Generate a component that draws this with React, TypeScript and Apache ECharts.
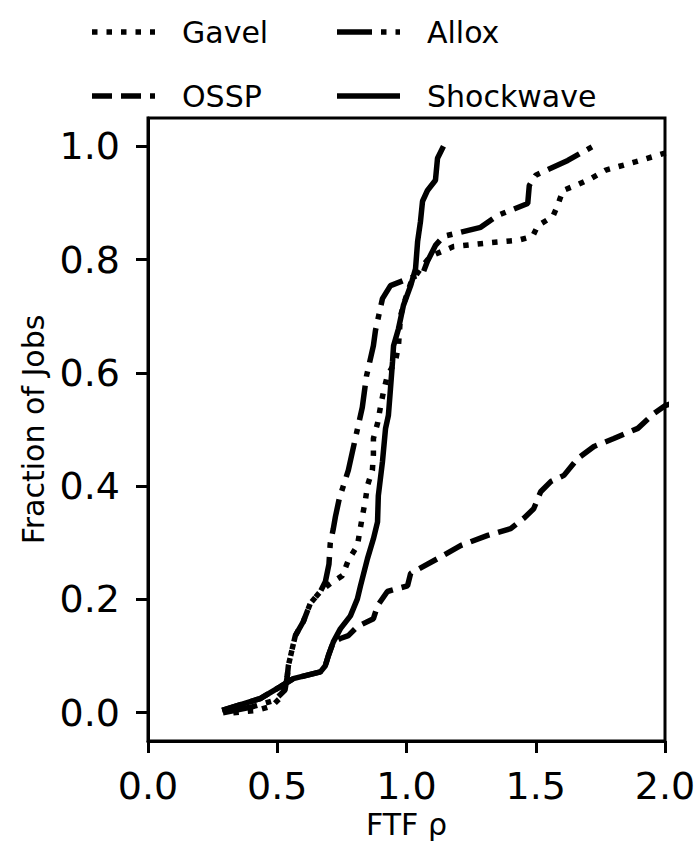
import React, { useEffect, useRef } from "react";
import * as echarts from "echarts";

const seriesNames = ["Gavel", "Allox", "OSSP", "Shockwave"];
const xTicks = [0, 0.5, 1.0, 1.5, 2.0];
const yTicks = [0, 0.2, 0.4, 0.6, 0.8, 1.0];

const gavelData = [
  [0.33, 0.0], [0.42, 0.004], [0.48, 0.012], [0.52, 0.03], [0.539, 0.065], [0.543, 0.083],
  [0.558, 0.113], [0.57, 0.136], [0.601, 0.161], [0.628, 0.193], [0.667, 0.214], [0.705, 0.228],
  [0.752, 0.242], [0.775, 0.269], [0.81, 0.295], [0.829, 0.346], [0.841, 0.375], [0.849, 0.401],
  [0.868, 0.428], [0.872, 0.456], [0.872, 0.484], [0.888, 0.511], [0.899, 0.539], [0.911, 0.567],
  [0.926, 0.595], [0.957, 0.62], [0.969, 0.648], [0.977, 0.701], [0.996, 0.731], [1.016, 0.758],
  [1.054, 0.784], [1.093, 0.806], [1.182, 0.823], [1.306, 0.829], [1.43, 0.834], [1.488, 0.841],
  [1.508, 0.86], [1.566, 0.876], [1.585, 0.896], [1.605, 0.922], [1.655, 0.931], [1.713, 0.943],
  [1.771, 0.958], [1.888, 0.973], [2.0, 0.988], [2.06, 0.995],
];

const alloxData = [
  [0.29, 0.0], [0.4, 0.01], [0.49, 0.022], [0.53, 0.04], [0.539, 0.065], [0.543, 0.083],
  [0.558, 0.113], [0.57, 0.136], [0.601, 0.161], [0.628, 0.193], [0.667, 0.214], [0.686, 0.231],
  [0.7, 0.262], [0.705, 0.299], [0.717, 0.325], [0.725, 0.346], [0.74, 0.378], [0.775, 0.428],
  [0.802, 0.484], [0.829, 0.539], [0.845, 0.594], [0.872, 0.648], [0.88, 0.675], [0.907, 0.731],
  [0.938, 0.754], [0.988, 0.763], [1.043, 0.772], [1.066, 0.779], [1.081, 0.797], [1.112, 0.825],
  [1.143, 0.841], [1.287, 0.857], [1.353, 0.878], [1.469, 0.899], [1.475, 0.931], [1.5, 0.949],
  [1.624, 0.975], [1.721, 1.0],
];

const osspData = [
  [0.287, 0.004], [0.434, 0.025], [0.512, 0.046], [0.562, 0.06], [0.667, 0.072], [0.686, 0.083],
  [0.698, 0.101], [0.717, 0.125], [0.744, 0.131], [0.775, 0.136], [0.81, 0.152], [0.872, 0.166],
  [0.888, 0.189], [0.926, 0.214], [0.965, 0.219], [1.004, 0.224], [1.016, 0.246], [1.12, 0.272],
  [1.209, 0.295], [1.314, 0.313], [1.403, 0.325], [1.453, 0.343], [1.492, 0.36], [1.519, 0.39],
  [1.558, 0.408], [1.609, 0.419], [1.663, 0.449], [1.725, 0.47], [1.802, 0.484], [1.895, 0.502],
  [1.957, 0.528], [2.0, 0.542], [2.05, 0.55],
];

const shockwaveData = [
  [0.287, 0.004], [0.434, 0.025], [0.512, 0.046], [0.562, 0.06], [0.667, 0.072], [0.686, 0.083],
  [0.698, 0.101], [0.717, 0.125], [0.744, 0.148], [0.783, 0.171], [0.81, 0.201], [0.822, 0.224],
  [0.849, 0.272], [0.872, 0.307], [0.888, 0.337], [0.891, 0.383], [0.907, 0.443], [0.919, 0.502],
  [0.93, 0.525], [0.938, 0.572], [0.946, 0.62], [0.95, 0.648], [0.969, 0.678], [0.988, 0.719],
  [1.016, 0.754], [1.035, 0.784], [1.043, 0.832], [1.054, 0.867], [1.062, 0.903], [1.081, 0.922],
  [1.112, 0.94], [1.12, 0.979], [1.143, 1.0],
];

const FONT = "DejaVu Sans";
const LW = 5.5;

export default function App() {
  const ref = useRef<HTMLDivElement>(null);
  useEffect(() => {
    document.body.style.margin = "0";
    const chart = echarts.init(ref.current!, null, { renderer: "svg" });
    const lineTypes: any = {
      Gavel: [LW, 9],
      Allox: [35, 9, LW, 9],
      OSSP: [20, 9],
      Shockwave: "solid",
    };
    const dataMap: any = {
      Gavel: gavelData,
      Allox: alloxData,
      OSSP: osspData,
      Shockwave: shockwaveData,
    };
    const legendCommon = {
      orient: "vertical",
      top: 17,
      padding: 0,
      itemGap: 34,
      itemWidth: 63,
      itemHeight: 14,
      selectedMode: false,
      icon: "rect",
      itemStyle: { color: "rgba(0,0,0,0)", opacity: 0 },
      textStyle: {
        fontSize: 30,
        fontFamily: FONT,
        color: "#000",
        padding: [0, 0, 0, 22],
      },
    };
    // legend sample lines (drawn next to the legend texts)
    const legendSlots: any = {
      Gavel: { x: 92, y: 32 },
      OSSP: { x: 92, y: 96 },
      Allox: { x: 337, y: 32 },
      Shockwave: { x: 337, y: 96 },
    };
    const legendSamples = seriesNames.map((name) => {
      const s = legendSlots[name];
      const t = lineTypes[name];
      return {
        type: "line",
        silent: true,
        shape: { x1: s.x, y1: s.y, x2: s.x + 63, y2: s.y },
        style: {
          stroke: "#000",
          lineWidth: LW,
          lineDash: Array.isArray(t) ? t : null,
          lineCap: "butt",
        },
      };
    });
    chart.setOption({
      animation: false,
      backgroundColor: "#fff",
      grid: {
        left: 148,
        right: 33,
        top: 118,
        bottom: 101,
        show: true,
        borderColor: "#000",
        borderWidth: 3,
        backgroundColor: "transparent",
        containLabel: false,
        outerBoundsMode: "none",
      },
      legend: [
        { ...legendCommon, left: 92, data: [seriesNames[0], seriesNames[2]] },
        { ...legendCommon, left: 337, data: [seriesNames[1], seriesNames[3]] },
      ],
      graphic: legendSamples,
      xAxis: {
        type: "value",
        min: 0,
        max: 2,
        interval: 0.5,
        name: "FTF ρ",
        nameLocation: "middle",
        nameGap: 65,
        nameTextStyle: { fontSize: 30, fontFamily: FONT, color: "#000" },
        axisLine: { show: true, onZero: false, lineStyle: { color: "#000", width: 3 } },
        axisTick: { show: true, length: 12, lineStyle: { color: "#000", width: 3 }, customValues: xTicks },
        axisLabel: {
          fontSize: 38,
          fontFamily: FONT,
          color: "#000",
          margin: 26,
          customValues: xTicks,
          formatter: (v: number) => v.toFixed(1),
        },
        splitLine: { show: false },
      },
      yAxis: {
        type: "value",
        min: -0.05,
        max: 1.05,
        name: "Fraction of Jobs",
        nameLocation: "middle",
        nameGap: 95,
        nameTextStyle: { fontSize: 30, fontFamily: FONT, color: "#000" },
        axisLine: { show: true, onZero: false, lineStyle: { color: "#000", width: 3 } },
        axisTick: { show: true, length: 12, lineStyle: { color: "#000", width: 3 }, customValues: yTicks },
        axisLabel: {
          fontSize: 38,
          fontFamily: FONT,
          color: "#000",
          margin: 28,
          customValues: yTicks,
          formatter: (v: number) => v.toFixed(1),
        },
        splitLine: { show: false },
      },
      series: seriesNames.map((name) => ({
        name,
        type: "line",
        data: dataMap[name],
        symbol: "none",
        showSymbol: false,
        clip: true,
        silent: true,
        z: name === "Shockwave" ? 5 : 3,
        lineStyle: { color: "#000", width: LW, type: lineTypes[name], cap: "butt" },
        itemStyle: { color: "#000" },
        emphasis: { disabled: true },
      })),
    });
    return () => chart.dispose();
  }, []);
  return <div ref={ref} style={{ width: 698, height: 842 }} />;
}
